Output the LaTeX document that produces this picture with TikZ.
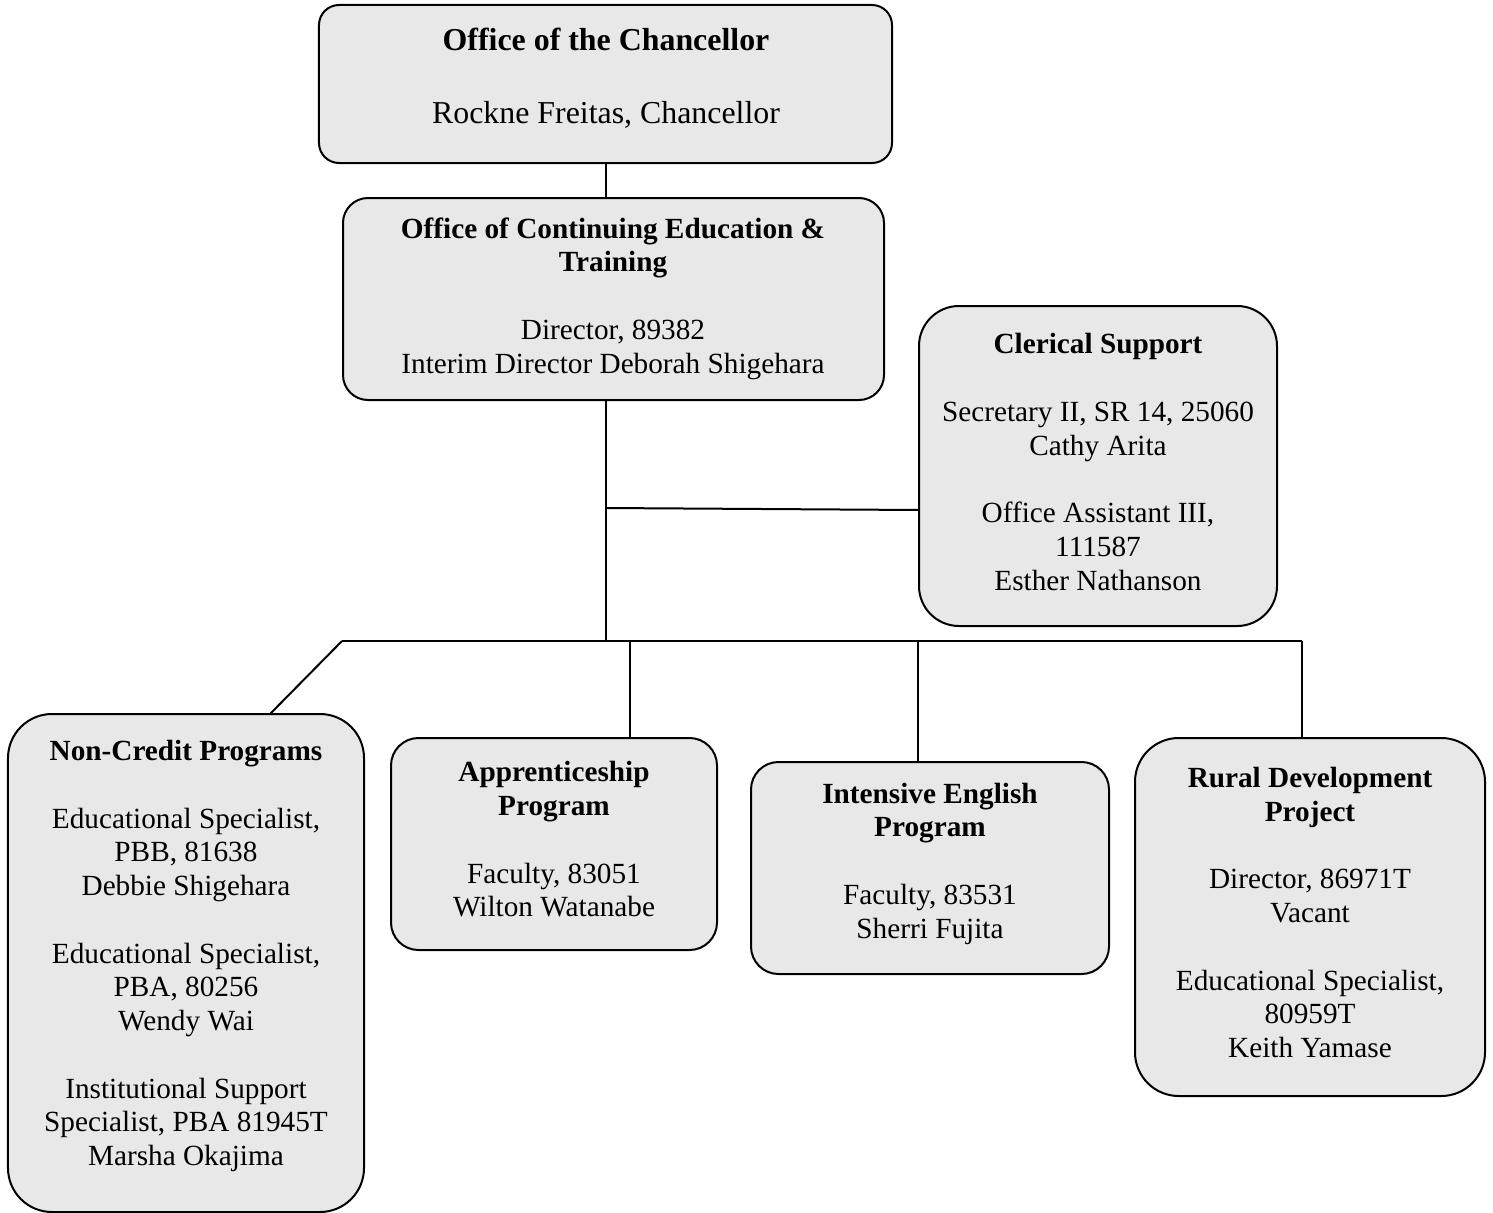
\documentclass[tikz,border=0pt]{standalone}
\usepackage{fontspec}
\setmainfont{Liberation Serif}
\definecolor{boxgray}{HTML}{E8E8E8}
\tikzset{
  orgbox/.style={draw=black, fill=boxgray, line width=0.8pt, inner sep=0pt},
  orgtext/.style={align=center, inner sep=0pt, font=\fontsize{11.7pt}{13.5pt}\selectfont},
  bigtext/.style={align=center, inner sep=0pt, font=\fontsize{12.75pt}{14.6pt}\selectfont},
  link/.style={draw=black, line width=0.8pt}
}
\newcommand{\bl}{\\[13.5pt]}
\begin{document}
\begin{tikzpicture}[x=0.4pt,y=-0.4pt]
\useasboundingbox (0,0) rectangle (1493,1213);
% boxes
\node[orgbox, rounded corners=8pt, minimum width=229.2pt, minimum height=63.2pt] (chan) at (605.5,84) {};
\node[orgbox, rounded corners=10pt, minimum width=216.4pt, minimum height=80.8pt] (ce) at (613.5,299) {};
\node[orgbox, rounded corners=16pt, minimum width=143.2pt, minimum height=128pt] (cler) at (1098,466) {};
\node[orgbox, rounded corners=17.6pt, minimum width=142.4pt, minimum height=199.2pt] (nc) at (186,963) {};
\node[orgbox, rounded corners=11pt, minimum width=130.4pt, minimum height=84.8pt] (app) at (554,844) {};
\node[orgbox, rounded corners=11pt, minimum width=143.2pt, minimum height=84.8pt] (ie) at (930,868) {};
\node[orgbox, rounded corners=17.5pt, minimum width=140pt, minimum height=143.2pt] (rur) at (1310,917) {};
% texts
\node[bigtext] (chant) at (606,78) {\textbf{Office of the Chancellor}\\[14.6pt] Rockne Freitas, Chancellor};
\node[orgtext] (cet) at (613,298.5) {\textbf{Office of Continuing Education \&}\\\textbf{Training}\bl Director, 89382\\Interim Director Deborah Shigehara};
\node[orgtext] (clert) at (1098,462) {\textbf{Clerical Support}\bl Secretary II, SR 14, 25060\\Cathy Arita\bl Office Assistant III,\\111587\\Esther Nathanson};
\node[orgtext] (nct) at (186,956) {\textbf{Non-Credit Programs}\bl Educational Specialist,\\PBB, 81638\\Debbie Shigehara\bl Educational Specialist,\\PBA, 80256\\Wendy Wai\bl Institutional Support\\Specialist, PBA 81945T\\Marsha Okajima};
\node[orgtext] (appt) at (554,839.5) {\textbf{Apprenticeship}\\\textbf{Program}\bl Faculty, 83051\\Wilton Watanabe};
\node[orgtext] (iet) at (930,863.5) {\textbf{Intensive English}\\\textbf{Program}\bl Faculty, 83531\\Sherri Fujita};
\node[orgtext] (rurt) at (1310,912.5) {\textbf{Rural Development}\\\textbf{Project}\bl Director, 86971T\\Vacant\bl Educational Specialist,\\80959T\\Keith Yamase};
% connector points
\coordinate (cetop) at (606,198);
\coordinate (cebot) at (606,400);
\coordinate (jc) at (606,508);
\coordinate (cj) at (919,510);
\coordinate (busm) at (606,641);
\coordinate (busl) at (342,641);
\coordinate (busr) at (1302,641);
\coordinate (ncin) at (270,714);
\coordinate (bapp) at (630,641);
\coordinate (bie) at (918,641);
% connectors
\draw[link] (chan.south -| cetop) -- (cetop);
\draw[link] (cebot) -- (busm);
\draw[link] (jc) -- (cj);
\draw[link] (busl) -- (busr);
\draw[link] (busl) -- (ncin);
\draw[link] (bapp) -- (bapp |- app.north);
\draw[link] (bie) -- (bie |- ie.north);
\draw[link] (busr) -- (busr |- rur.north);
\end{tikzpicture}
\end{document}
